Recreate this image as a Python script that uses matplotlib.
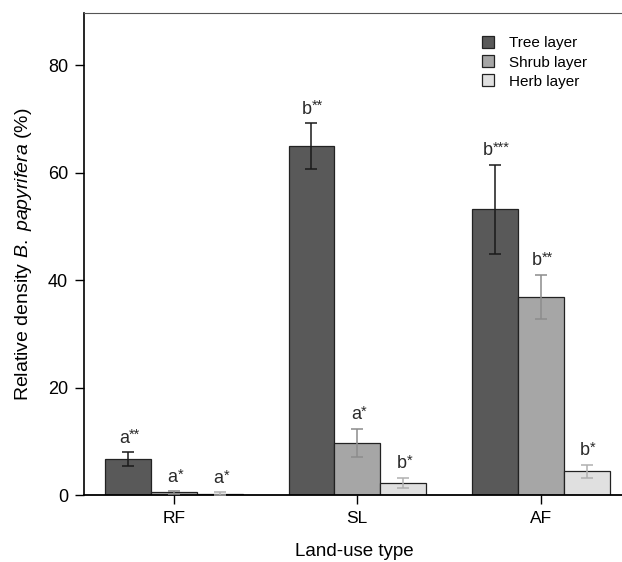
import matplotlib
matplotlib.use('Agg')
import matplotlib.pyplot as plt
import numpy as np

plt.rcParams['font.family'] = ['Liberation Sans', 'DejaVu Sans']
plt.rcParams['mathtext.fontset'] = 'custom'
plt.rcParams['mathtext.rm'] = 'Liberation Sans'
plt.rcParams['mathtext.it'] = 'Liberation Sans:italic'

land_use = ['RF', 'SL', 'AF']
layers = ['Tree layer', 'Shrub layer', 'Herb layer']

tree = [6.7, 64.9, 53.2]
tree_err = [1.3, 4.3, 8.3]
shrub = [0.5, 9.7, 36.9]
shrub_err = [0.2, 2.6, 4.1]
herb = [0.3, 2.3, 4.4]
herb_err = [0.2, 0.9, 1.2]

tree_lbl = ['a**', 'b**', 'b***']
shrub_lbl = ['a*', 'a*', 'b**']
herb_lbl = ['a*', 'b*', 'b*']

fig = plt.figure(figsize=(6.22, 5.62), dpi=100)
ax = fig.add_axes([0.135, 0.119, 0.87, 0.858])

x = np.arange(len(land_use))
w = 0.25
colors = ['#595959', '#a6a6a6', '#e0e0e0']
ecolors = ['#1a1a1a', '#8c8c8c', '#b0b0b0']
series = [(tree, tree_err, tree_lbl), (shrub, shrub_err, shrub_lbl), (herb, herb_err, herb_lbl)]

for i, (vals, errs, lbls) in enumerate(series):
    pos = x + (i - 1) * w
    ax.bar(pos, vals, w, color=colors[i], edgecolor='#222222', linewidth=0.9,
           label=layers[i], zorder=2)
    ax.errorbar(pos, vals, yerr=errs, fmt='none', ecolor=ecolors[i],
                elinewidth=1.1, capsize=4, capthick=1.1, zorder=3)
    for p, v, e, t in zip(pos, vals, errs, lbls):
        letter = t.rstrip('*')
        stars = t[len(letter):]
        lt = ax.annotate(letter, (p, v + e), xytext=(-2 * len(stars) + 1, 4),
                         textcoords='offset points', ha='center', va='bottom',
                         fontsize=13, color='#2a2a2a')
        ax.annotate(stars, xy=(1.0, 1.08), xycoords=lt, ha='left', va='top',
                    fontsize=10.5, color='#2a2a2a')

ax.set_xlim(-0.49, 2.46)
ax.set_ylim(0, 89.7)
ax.set_xticks(x)
ax.set_xticklabels(land_use)
ax.set_yticks([0, 20, 40, 60, 80])
ax.tick_params(axis='both', direction='out', length=6.5, width=1, labelsize=13, pad=5)
ax.tick_params(axis='x', labelsize=12.5)

ax.spines['right'].set_visible(False)
ax.spines['top'].set_color('#555555')
ax.spines['left'].set_linewidth(1.2)
ax.spines['bottom'].set_linewidth(1.3)

ax.set_xlabel('Land-use type', fontsize=13.5, labelpad=12)
ax.set_ylabel(r'Relative density $\mathit{B.\ papyrifera}$ (%)', fontsize=14, labelpad=10)

ax.legend(loc='upper left', bbox_to_anchor=(0.71, 0.98), frameon=False,
          fontsize=11, handlelength=0.8, handleheight=0.8, handletextpad=1.0,
          labelspacing=0.32)

plt.savefig('out.png', dpi=100)
